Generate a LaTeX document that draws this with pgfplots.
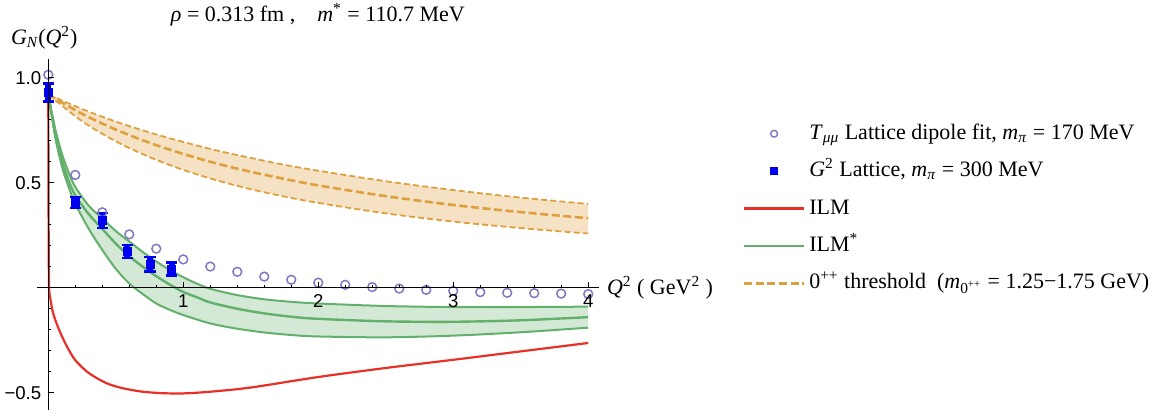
\documentclass[border=0pt]{standalone}
\usepackage{pgfplots}
\pgfplotsset{compat=1.18}
\usepgfplotslibrary{fillbetween}
\usepackage{fontspec}
\setmainfont{Liberation Serif}
\setsansfont{Liberation Sans}
\definecolor{ilmred}{RGB}{232,48,38}
\definecolor{greenline}{RGB}{98,176,108}
\definecolor{greenfill}{RGB}{211,233,214}
\definecolor{orangeline}{RGB}{222,160,62}
\definecolor{orangefill}{RGB}{245,226,196}
\definecolor{circcol}{RGB}{128,120,192}
\definecolor{latblue}{RGB}{0,0,240}
\begin{document}
\begin{tikzpicture}
\begin{axis}[
  set layers, axis on top,
  scale only axis, width=281.15pt, height=175.5pt,
  xmin=-0.086, xmax=4.08, ymin=-0.582, ymax=1.089,
  axis lines=middle, axis line style={-, line width=0.5pt},
  xtick={1,2,3,4}, xticklabels={1,2,3,4},
  ytick={-0.5,0.5,1}, yticklabels={−0.5,0.5,1.0},
  minor xtick={0.2,0.4,0.6,0.8,1.2,1.4,1.6,1.8,2.2,2.4,2.6,2.8,3.2,3.4,3.6,3.8},
  minor ytick={-0.4,-0.3,-0.2,-0.1,0.1,0.2,0.3,0.4,0.6,0.7,0.8,0.9},
  tick align=inside,
  major tick length=2.8pt, minor tick length=1.5pt,
  tick style={line width=0.5pt, black},
  ticklabel style={font=\sffamily\fontsize{9.3}{10}\selectfont},
  xlabel={\textit{Q}\textsuperscript{2} ( GeV\textsuperscript{2} )},
  ylabel={\textit{G\textsubscript{N}}(\textit{Q}\textsuperscript{2})},
  xlabel style={at={(axis cs:4.08,0)}, anchor=west, xshift=0.5pt},
  ylabel style={at={(axis cs:0,1.089)}, anchor=south, xshift=-2pt, yshift=1.5pt},
  label style={font=\fontsize{11}{13}\selectfont},
  title={\textit{ρ} = 0.313 fm ,\quad \textit{m}\textsuperscript{*} = 110.7 MeV},
  title style={at={(0.5,1)}, anchor=south, font=\fontsize{11}{13}\selectfont, yshift=7pt},
  legend style={at={(1.2552,0.574)}, anchor=west, draw=none, fill=none, inner sep=0pt,
    font=\fontsize{11}{13}\selectfont, row sep=4.2pt,
    nodes={text height=8pt, text depth=2.5pt}},
  legend cell align=left,
]
\addlegendimage{legend image code/.code={\draw[circcol,line width=0.7pt] (15pt,0pt) circle (1.7pt);}}
\addlegendentry{\textit{T}\textsubscript{\textit{μμ}} Lattice dipole fit, \textit{m}\textsubscript{\textit{π}} = 170 MeV}
\addlegendimage{legend image code/.code={\fill[latblue] (13.3pt,-1.7pt) rectangle (16.7pt,1.7pt);}}
\addlegendentry{\textit{G}\textsuperscript{2} Lattice, \textit{m}\textsubscript{\textit{π}} = 300 MeV}
\addlegendimage{legend image code/.code={\draw[ilmred,line width=1.1pt] (0pt,0pt) -- (30pt,0pt);}}
\addlegendentry{ILM}
\addlegendimage{legend image code/.code={\draw[greenline,line width=1.1pt] (0pt,0pt) -- (30pt,0pt);}}
\addlegendentry{ILM\textsuperscript{*}}
\addlegendimage{legend image code/.code={\draw[orangeline,line width=1.2pt,dash pattern=on 4pt off 1.8pt] (0pt,0pt) -- (30pt,0pt);}}
\addlegendentry{0\textsuperscript{++} threshold\ \ (\textit{m}\textsubscript{0\textsuperscript{++}} = 1.25−1.75 GeV)}

% orange threshold band
\addplot[forget plot, name path=oU, orangeline, line width=0.9pt, dash pattern=on 3pt off 1.6pt, smooth] coordinates {
(0,0.920) (0.25,0.851) (0.5,0.791) (0.75,0.739) (1,0.694) (1.25,0.653) (1.5,0.618) (1.75,0.585) (2,0.557) (2.5,0.507) (3,0.465) (3.5,0.429) (4,0.399)};
\addplot[forget plot, name path=oL, orangeline, line width=0.9pt, dash pattern=on 3pt off 1.6pt, smooth] coordinates {
(0,0.920) (0.25,0.793) (0.5,0.697) (0.75,0.622) (1,0.561) (1.25,0.511) (1.5,0.469) (1.75,0.434) (2,0.404) (2.5,0.354) (3,0.315) (3.5,0.284) (4,0.258)};
\addplot[forget plot, orangefill] fill between[of=oU and oL];
\addplot[forget plot, orangeline, line width=1.3pt, dash pattern=on 4pt off 1.8pt, smooth] coordinates {
(0,0.920) (0.25,0.828) (0.5,0.753) (0.75,0.690) (1,0.637) (1.25,0.591) (1.5,0.552) (1.75,0.518) (2,0.487) (2.5,0.436) (3,0.394) (3.5,0.360) (4,0.331)};

% green ILM* band
\addplot[forget plot, name path=gU, greenline, line width=1pt, smooth] coordinates {
(0,0.92) (0.05,0.76) (0.1,0.64) (0.15,0.55) (0.2,0.48) (0.3,0.39) (0.4,0.33) (0.5,0.27) (0.6,0.22) (0.7,0.17) (0.8,0.125) (0.9,0.085) (1.0,0.05) (1.1,0.02) (1.2,-0.005) (1.4,-0.035) (1.6,-0.055) (1.8,-0.067) (2.0,-0.075) (2.5,-0.087) (3.0,-0.092) (3.5,-0.092) (4.0,-0.09)};
\addplot[forget plot, name path=gL, greenline, line width=1pt, smooth] coordinates {
(0,0.92) (0.05,0.72) (0.1,0.58) (0.15,0.48) (0.2,0.40) (0.3,0.28) (0.4,0.18) (0.5,0.09) (0.6,0.02) (0.7,-0.03) (0.8,-0.075) (0.9,-0.105) (1.0,-0.13) (1.2,-0.17) (1.4,-0.195) (1.6,-0.213) (1.8,-0.225) (2.0,-0.232) (2.5,-0.236) (3.0,-0.228) (3.5,-0.212) (4.0,-0.19)};
\addplot[forget plot, greenfill] fill between[of=gU and gL];
\addplot[forget plot, greenline, line width=1.2pt, smooth] coordinates {
(0,0.92) (0.05,0.74) (0.1,0.61) (0.15,0.51) (0.2,0.44) (0.3,0.35) (0.4,0.28) (0.5,0.21) (0.6,0.15) (0.7,0.10) (0.8,0.055) (0.9,0.015) (1.0,-0.02) (1.1,-0.045) (1.2,-0.07) (1.4,-0.10) (1.6,-0.122) (1.8,-0.138) (2.0,-0.148) (2.5,-0.16) (3.0,-0.162) (3.5,-0.155) (4.0,-0.14)};

% red ILM
\addplot[forget plot, ilmred, line width=1.1pt, smooth] coordinates {
(0,0.92) (0.001,0.6) (0.003,0.2) (0.006,0.0) (0.015,-0.05) (0.03,-0.107) (0.05,-0.15) (0.08,-0.2) (0.13,-0.27) (0.2,-0.345) (0.3,-0.406) (0.43,-0.454) (0.55,-0.478) (0.7,-0.495) (0.85,-0.502) (1.0,-0.503) (1.2,-0.495) (1.5,-0.475) (2.0,-0.425) (2.5,-0.382) (3.0,-0.343) (3.5,-0.303) (4.0,-0.263)};

% T_mumu lattice dipole fit
\addplot[forget plot, only marks, mark=o, mark size=2.2pt, mark options={circcol, line width=0.75pt}] coordinates {
(0,1.014) (0.2,0.537) (0.4,0.359) (0.6,0.254) (0.8,0.186) (1.0,0.135) (1.2,0.101) (1.4,0.076) (1.6,0.053) (1.8,0.038) (2.0,0.024) (2.2,0.014) (2.4,0.003) (2.6,-0.004) (2.8,-0.010) (3.0,-0.015) (3.2,-0.021) (3.4,-0.024) (3.6,-0.026) (3.8,-0.028) (4.0,-0.030)};

% G^2 lattice
\addplot[forget plot, only marks, latblue, mark=square*, mark size=2pt,
  error bars/.cd, y dir=both, y explicit,
  error bar style={line width=3pt, latblue},
  error mark options={rotate=90, mark size=2.8pt, line width=1.2pt, latblue}]
 coordinates {
 (0,0.929) +- (0,0.043)
 (0.2,0.406) +- (0,0.026)
 (0.4,0.320) +- (0,0.036)
 (0.585,0.173) +- (0,0.031)
 (0.753,0.112) +- (0,0.035)
 (0.914,0.089) +- (0,0.031)};

\coordinate (SW) at (rel axis cs:0,0);
\end{axis}
\pgfresetboundingbox
\path (SW) ++(-18.35pt,-3pt) rectangle ++(578pt,208pt);
\end{tikzpicture}
\end{document}
